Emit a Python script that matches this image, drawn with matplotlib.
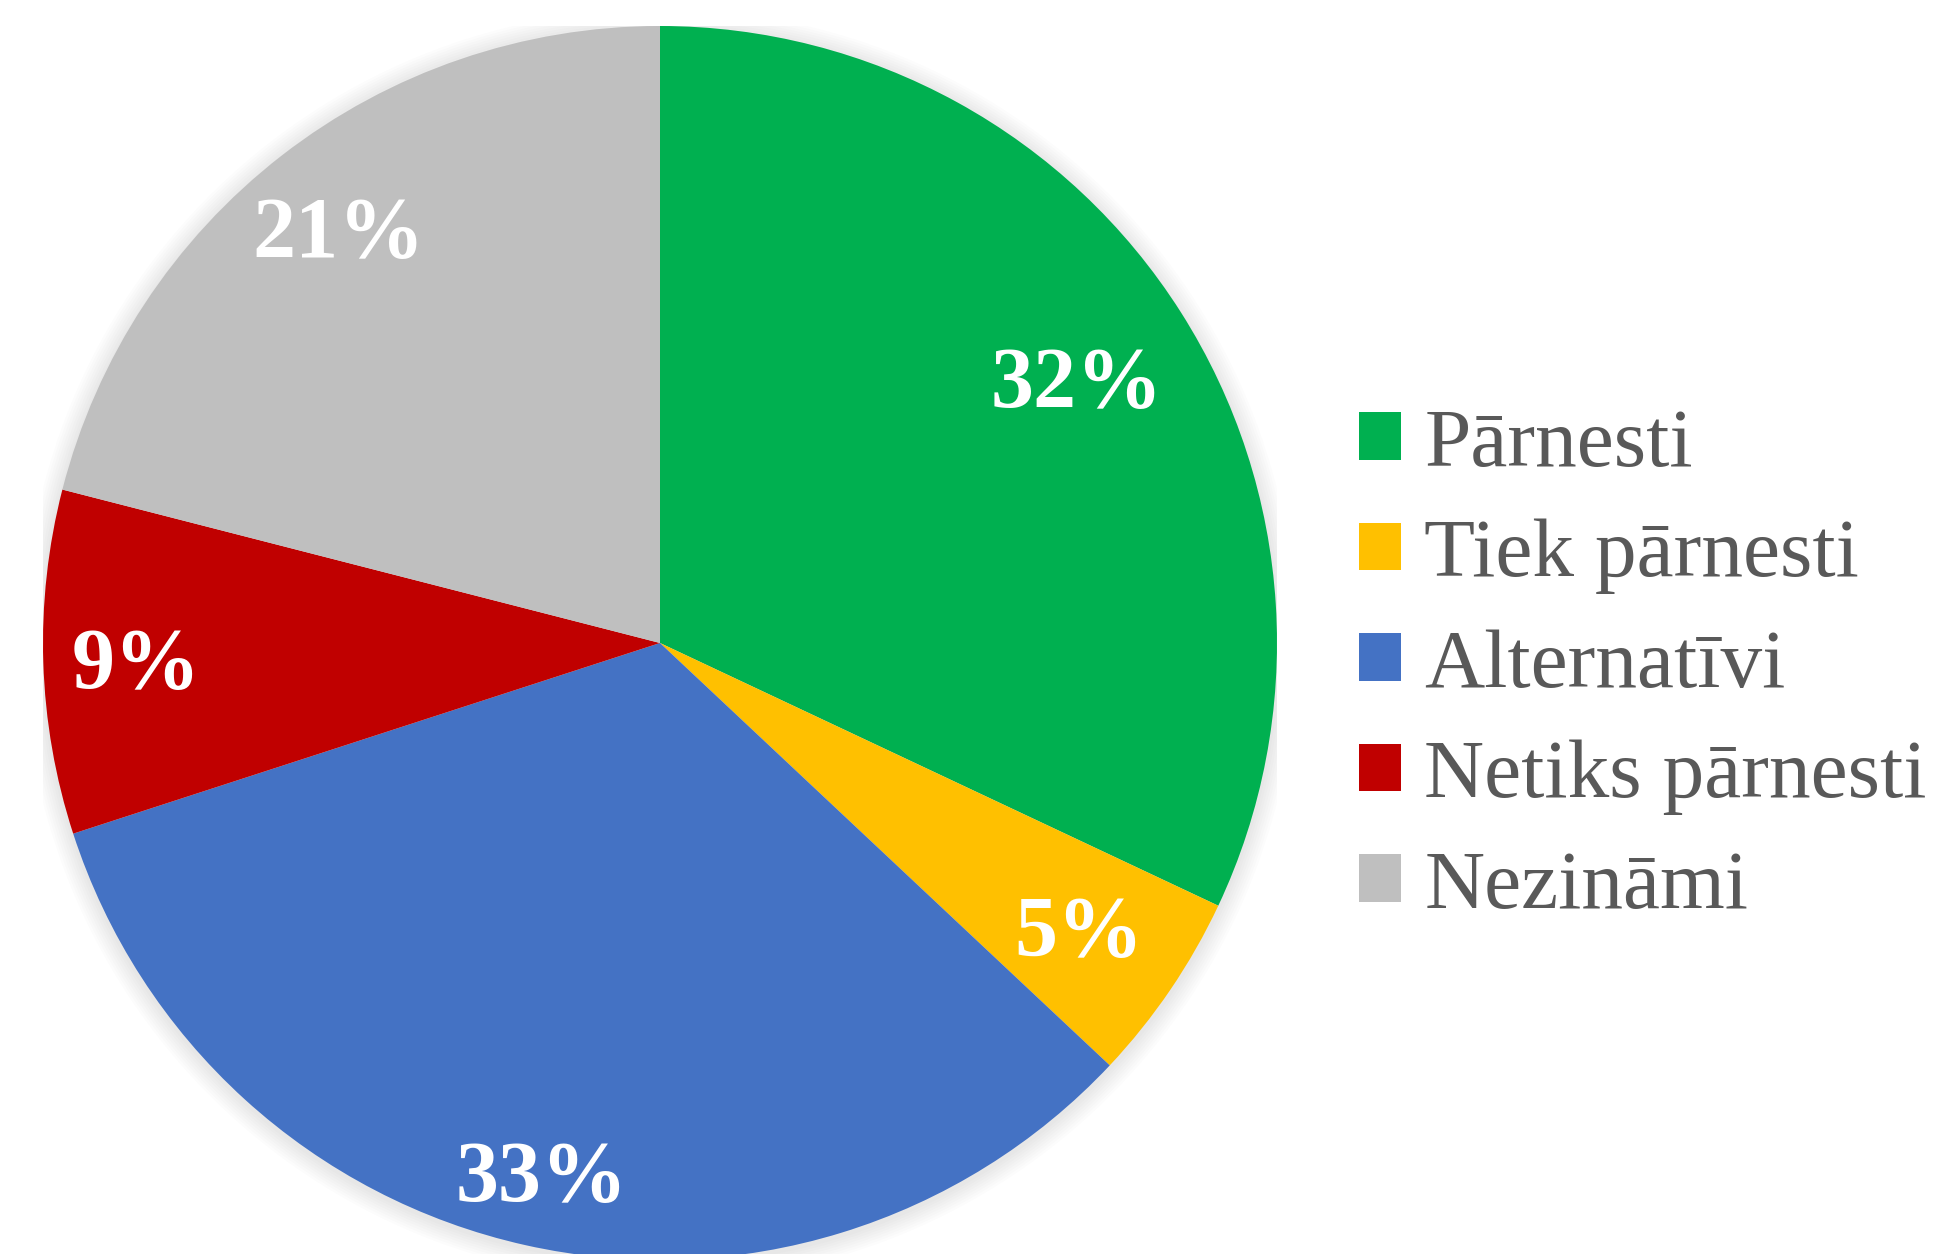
import numpy as np
import matplotlib.pyplot as plt
from matplotlib.patches import Patch, Circle

# Dati
categories = ['Pārnesti', 'Tiek pārnesti', 'Alternatīvi', 'Netiks pārnesti', 'Nezināmi']
values = [32, 5, 33, 9, 21]
colors = ['#00B050', '#FFC000', '#4472C4', '#C00000', '#BFBFBF']

# attālums no centra procentu uzrakstiem
label_r = [0.80, 0.82, 0.88, 0.85, 0.85]

plt.rcParams['font.family'] = ['Liberation Serif', 'DejaVu Serif']

fig = plt.figure(figsize=(19.54, 12.54), dpi=100)
W, H = 1954, 1254
cx, cy, r = 660, 643, 617
ax = fig.add_axes([(cx - r) / W, (H - cy - r) / H, 2 * r / W, 2 * r / H])

wedges, _ = ax.pie(values, colors=colors, startangle=90, counterclock=False,
                   radius=1.0, wedgeprops=dict(linewidth=0))
for w in wedges:
    w.set_zorder(2)

# viegla ēna
for i in range(8):
    ax.add_patch(Circle((0.0, -0.004), 1.0 + 0.004 * (i + 1), color='black',
                        alpha=0.012, lw=0, zorder=0))

for w, v, rr in zip(wedges, values, label_r):
    mid = np.deg2rad((w.theta1 + w.theta2) / 2)
    ax.text(rr * np.cos(mid), rr * np.sin(mid) - 0.013, f'{v}%', color='white',
            fontsize=62, fontweight='bold', ha='center', va='center', zorder=3)

ax.set_xlim(-1, 1)
ax.set_ylim(-1, 1)
ax.set_aspect('equal')
ax.axis('off')

handles = [Patch(facecolor=c, edgecolor='none') for c in colors]
leg = fig.legend(handles, categories, loc='center left',
                 bbox_to_anchor=(1326 / W, 1 - 667 / H), frameon=False,
                 fontsize=60, labelcolor='#595959', handlelength=0.5,
                 handleheight=0.5, handletextpad=0.28, labelspacing=0.42,
                 borderaxespad=0)

fig.savefig('out.png', dpi=100)
